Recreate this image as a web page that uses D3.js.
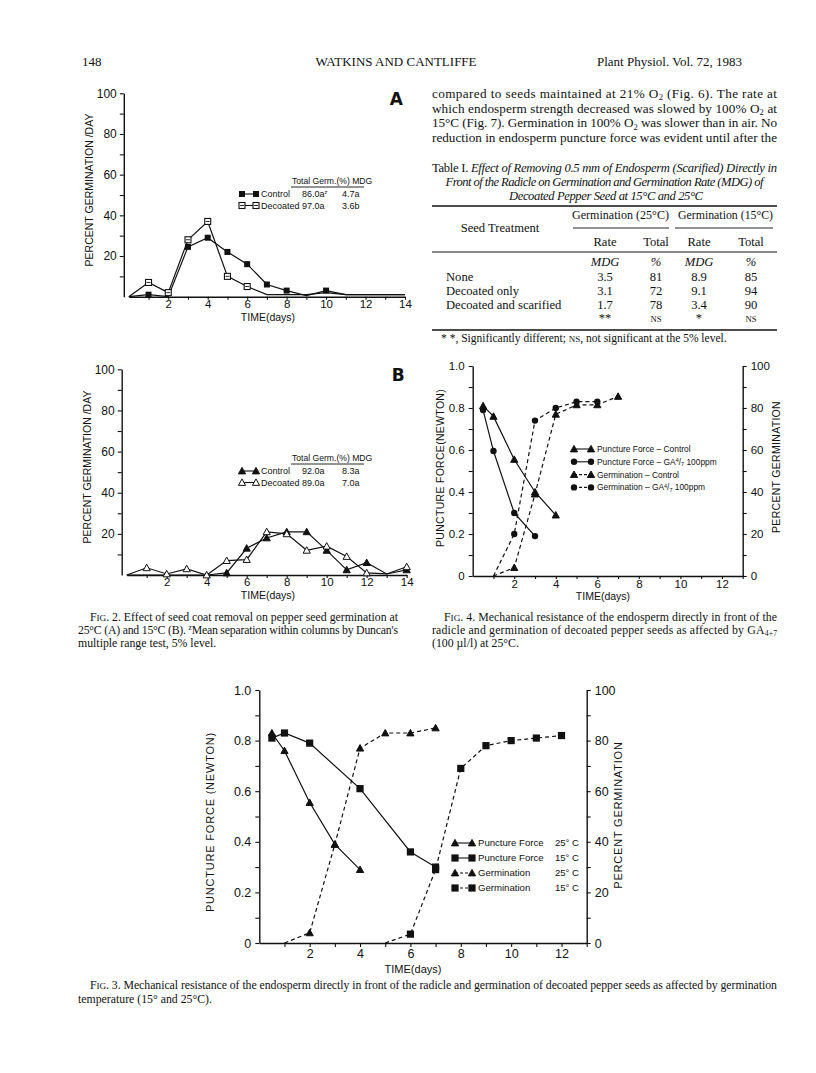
<!DOCTYPE html>
<html><head><meta charset="utf-8">
<script src="https://cdn.jsdelivr.net/npm/d3@7"></script>
<style>body{margin:0;background:#fff}svg{display:block}</style>
</head><body><svg id="page" width="816" height="1073"></svg>
<script>
// ---------- DATA ----------
const fig2Days = [0,1,2,3,4,5,6,7,8,9,10,11,12,13,14];
const fig2aControl  = [0,1,0,24.5,29,22,16,6,3,0.5,3,1,1,1,1];
const fig2aDecoated = [0,7,2,28,37,10,5,1,1,1,2,1,1,1,1];
const fig2aControlMarkDays = [1,3,4,5,6,7,8,10];
const fig2aDecoatedMarkDays = [1,2,3,4,5,6];
const fig2bControl  = [0,0,0,0,0,1,13,18,21,21,12,2.5,6,0.5,2.5];
const fig2bDecoated = [0,3.5,0.5,3,0,7,7.5,21,20,12,14,9,1,0.5,4];
const fig2bControlMarkDays = [5,6,7,8,9,10,11,12,14];
const fig2bDecoatedMarkDays = [1,2,3,4,5,6,7,8,9,10,11,12,14];
const fig2aLegend = [["Control","86.0a^{z}","4.7a"],["Decoated","97.0a","3.6b"]];
const fig2bLegend = [["Control","92.0a","8.3a"],["Decoated","89.0a","7.0a"]];
const fig2YTicks = [10,20,30,40,50,60,70,80,90,100];
const fig2XTicks = [1,2,3,4,5,6,7,8,9,10,11,12,13,14];

const fig4PfControlDays = [0.5,1,2,3,4];
const fig4PfControl = [0.81,0.76,0.555,0.40,0.29];
const fig4PfGaDays = [0.5,1,2,3];
const fig4PfGa = [0.79,0.595,0.30,0.19];
const fig4GermControlDays = [1,2,3,4,5,6,7];
const fig4GermControl = [0,4,39,77,81.5,81.5,85.5];
const fig4GermGaDays = [1,2,3,4,5,6];
const fig4GermGa = [0,20,74,80,83,83];

const fig3Pf25Days = [0.5,1,2,3,4];
const fig3Pf25 = [0.83,0.76,0.555,0.39,0.29];
const fig3Pf15Days = [0.5,1,2,4,6,7];
const fig3Pf15 = [0.81,0.83,0.79,0.61,0.36,0.30];
const fig3Germ25Days = [1,2,3,4,5,6,7];
const fig3Germ25 = [0,4,39,77,83,83,85];
const fig3Germ15Days = [5,6,7,8,9,10,11,12];
const fig3Germ15 = [0,3.5,29,69,78,80,81,82];

const forceTicks = [0,0.1,0.2,0.3,0.4,0.5,0.6,0.7,0.8,0.9,1.0];
const pctTicks = [0,10,20,30,40,50,60,70,80,90,100];
const dayTicks = [1,2,3,4,5,6,7,8,9,10,11,12,13];

const tableRows = ["None","Decoated only","Decoated and scarified"];
const rate25 = ["3.5","3.1","1.7"];
const total25 = ["81","72","78"];
const rate15 = ["8.9","9.1","3.4"];
const total15 = ["85","94","90"];
const sigRow = ["**","NS","*","NS"];

// ---------- SETUP ----------
const svg = d3.select("#page");
svg.append("rect").attr("width",816).attr("height",1073).attr("fill","#fff");
const SERIF = "'Liberation Serif','Times New Roman',serif";
const SANS = "'Liberation Sans',Arial,sans-serif";
const LM = 78;

function rich(parent, x, y, str, o = {}) {
  const size = o.size || 13;
  const t = parent.append("text").attr("x", x).attr("y", y)
    .attr("font-family", o.family || SERIF).attr("font-size", size)
    .attr("fill", "#111").attr("text-anchor", o.anchor || "start");
  if (o.weight) t.attr("font-weight", o.weight);
  if (o.style) t.attr("font-style", o.style);
  if (o.len) t.attr("textLength", o.len).attr("lengthAdjust", o.adj || "spacing");
  const parts = str.split(/(_\{[^}]*\}|\^\{[^}]*\}|~\{[^}]*\}|\/\{[^}]*\})/).filter(s => s.length);
  let cur = 0;
  parts.forEach(p => {
    let shift = 0, fs = size, txt = p, st = null;
    if (p.startsWith("_{")) { shift = size*0.18; fs = size*0.65; txt = p.slice(2,-1); }
    else if (p.startsWith("^{")) { shift = -size*0.32; fs = size*0.65; txt = p.slice(2,-1); }
    else if (p.startsWith("~{")) { fs = size*0.78; txt = p.slice(2,-1); }
    else if (p.startsWith("/{")) { st = "italic"; txt = p.slice(2,-1); }
    const ts = t.append("tspan").attr("font-size", fs).text(txt);
    if (st) ts.attr("font-style", st);
    if (shift !== cur) { ts.attr("dy", shift - cur); cur = shift; }
  });
  return t;
}

function marker(g, type, cx, cy) {
  if (type === "sqFill") {
    g.append("rect").attr("x", cx-3).attr("y", cy-3).attr("width", 6).attr("height", 6).attr("fill", "#111");
  } else if (type === "sqOpen") {
    g.append("rect").attr("x", cx-3).attr("y", cy-3).attr("width", 6).attr("height", 6)
      .attr("fill", "#fff").attr("stroke", "#111").attr("stroke-width", 1.1);
    g.append("line").attr("x1", cx-2).attr("x2", cx+2).attr("y1", cy).attr("y2", cy).attr("stroke", "#111").attr("stroke-width", 0.9);
  } else if (type === "sqBig") {
    g.append("rect").attr("x", cx-3.6).attr("y", cy-3.6).attr("width", 7.2).attr("height", 7.2).attr("fill", "#111");
  } else if (type === "triFill" || type === "triOpen") {
    const s = 3.6;
    g.append("path").attr("d", `M${cx},${cy-s}L${cx+s},${cy+s*0.8}L${cx-s},${cy+s*0.8}Z`)
      .attr("fill", type === "triFill" ? "#111" : "#fff").attr("stroke", "#111").attr("stroke-width", 1);
  } else if (type === "circle") {
    g.append("circle").attr("cx", cx).attr("cy", cy).attr("r", 3.2).attr("fill", "#111");
  }
}

function styleAxis(ax, size) {
  ax.selectAll("path.domain").attr("stroke", "#111").attr("stroke-width", 1.4);
  ax.selectAll(".tick line").attr("stroke", "#111").attr("stroke-width", 1.1);
  ax.selectAll(".tick text").attr("font-family", SANS).attr("font-size", size).attr("fill", "#111");
}

// ---------- HEADER ----------
rich(svg, 82, 66, "148", {size: 13});
rich(svg, 396, 66, "WATKINS AND CANTLIFFE", {size: 13, anchor: "middle"});
rich(svg, 742, 66, "Plant Physiol. Vol. 72, 1983", {size: 13, anchor: "end"});

// ---------- PARAGRAPH ----------
const paraLines = [
  "compared to seeds maintained at 21% O_{2} (Fig. 6). The rate at",
  "which endosperm strength decreased was slowed by 100% O_{2} at",
  "15°C (Fig. 7). Germination in 100% O_{2} was slower than in air. No",
  "reduction in endosperm puncture force was evident until after the"
];
paraLines.forEach((l, i) => rich(svg, 432, 98 + i*14.6, l, {size: 13.2, len: 345}));

// ---------- TABLE ----------
rich(svg, 432, 172, "Table I. /{Effect of Removing 0.5 mm of Endosperm (Scarified) Directly in}", {size: 12.6, len: 345});
rich(svg, 604.5, 186, "Front of the Radicle on Germination and Germination Rate (MDG) of", {size: 12.6, style: "italic", anchor: "middle", len: 318});
rich(svg, 606, 200, "Decoated Pepper Seed at 15°C and 25°C", {size: 12.6, style: "italic", anchor: "middle", len: 194});
const rule = (y, w) => svg.append("line").attr("x1", 432).attr("x2", 777).attr("y1", y).attr("y2", y).attr("stroke", "#111").attr("stroke-width", w);
rule(206, 1.4);
rich(svg, 572, 219, "Germination (25°C)", {size: 12.6, len: 97, adj: "spacingAndGlyphs"});
rich(svg, 678, 219, "Germination (15°C)", {size: 12.6, len: 95, adj: "spacingAndGlyphs"});
svg.append("line").attr("x1", 573).attr("x2", 669).attr("y1", 228).attr("y2", 228).attr("stroke", "#111").attr("stroke-width", 0.9);
svg.append("line").attr("x1", 675).attr("x2", 773).attr("y1", 228).attr("y2", 228).attr("stroke", "#111").attr("stroke-width", 0.9);
rich(svg, 500, 232, "Seed Treatment", {size: 12.6, anchor: "middle"});
const colX = [605, 656, 699, 751];
["Rate","Total","Rate","Total"].forEach((s, i) => rich(svg, colX[i], 246, s, {size: 12.6, anchor: "middle"}));
rule(252, 1.1);
["MDG","%","MDG","%"].forEach((s, i) => rich(svg, colX[i], 266, s, {size: 12.6, anchor: "middle", style: "italic"}));
tableRows.forEach((r, i) => {
  const y = 281 + i*14;
  rich(svg, 446, y, r, {size: 12.6});
  [rate25[i], total25[i], rate15[i], total15[i]].forEach((v, j) => rich(svg, colX[j], y, v, {size: 12.6, anchor: "middle"}));
});
sigRow.forEach((s, j) => rich(svg, colX[j], 322, s === "NS" ? "~{NS}" : s, {size: s === "NS" ? 11 : 12.6, anchor: "middle"}));
rule(330, 1.4);
rich(svg, 441, 342, "* *, Significantly different; ~{NS}, not significant at the 5% level.", {size: 11.5});

// ---------- FIG 2 ----------
function fig2(o) {
  const g = svg.append("g");
  const x = d3.scaleLinear().domain([0,14]).range(o.xr);
  const y = d3.scaleLinear().domain([0,100]).range(o.yr);
  const ya = g.append("g").attr("transform", `translate(${x(0)-5},0)`)
    .call(d3.axisLeft(y).tickValues(fig2YTicks).tickSize(4).tickSizeOuter(0).tickPadding(3)
      .tickFormat(d => d % 20 ? "" : d));
  styleAxis(ya, 12);
  const xa = g.append("g").attr("transform", `translate(0,${y(0)})`)
    .call(d3.axisBottom(x).tickValues(fig2XTicks).tickSize(3).tickSizeOuter(0).tickPadding(0)
      .tickFormat(d => d % 2 ? "" : d));
  styleAxis(xa, 11.5);
  g.append("text").attr("transform", `translate(${o.xr[0]-36},${o.tc}) rotate(-90)`)
    .attr("text-anchor", "middle").attr("font-family", SANS).attr("font-size", 10.5).attr("fill", "#111")
    .text("PERCENT GERMINATION /DAY");
  g.append("text").attr("x", 268).attr("y", o.yr[0]+24).attr("text-anchor", "middle")
    .attr("font-family", SANS).attr("font-size", 10.5).attr("fill", "#111").text("TIME(days)");
  g.append("text").attr("x", o.xr[1]-2).attr("y", o.yr[1]+12).attr("text-anchor", "end")
    .attr("font-family", "'DejaVu Sans',Arial,sans-serif").attr("font-weight", "bold").attr("font-size", 17).attr("fill", "#111").text(o.letter);
  const line = d3.line().x((d, i) => x(fig2Days[i])).y(d => y(d));
  [o.s1, o.s2].forEach(s => g.append("path").attr("d", line(s.v)).attr("fill", "none").attr("stroke", "#111").attr("stroke-width", 1.2));
  [o.s1, o.s2].forEach(s => s.marks.forEach(dd => marker(g, s.m, x(dd), y(s.v[fig2Days.indexOf(dd)]))));
  const L = o.leg;
  g.append("text").attr("x", 292).attr("y", L.y).attr("font-family", SANS).attr("font-size", 8.6).attr("fill", "#111").text("Total Germ.(%) MDG");
  g.append("line").attr("x1", 291).attr("x2", 364).attr("y1", L.y+3).attr("y2", L.y+3).attr("stroke", "#111").attr("stroke-width", 0.9);
  o.legRows.forEach((r, i) => {
    const ly = L.y + 13 + i*11.5;
    const s = i === 0 ? o.s1 : o.s2;
    g.append("line").attr("x1", 242).attr("x2", 256).attr("y1", ly-3).attr("y2", ly-3).attr("stroke", "#111").attr("stroke-width", 1.1);
    marker(g, s.m, 242, ly-3); marker(g, s.m, 256, ly-3);
    rich(g, 261, ly, r[0], {size: 9, family: SANS});
    rich(g, 302, ly, r[1], {size: 9, family: SANS});
    rich(g, 342, ly, r[2], {size: 9, family: SANS});
  });
}
fig2({xr: [128.8, 405], yr: [296.7, 93.3], letter: "A", tc: 190,
  s1: {v: fig2aControl, m: "sqFill", marks: fig2aControlMarkDays},
  s2: {v: fig2aDecoated, m: "sqOpen", marks: fig2aDecoatedMarkDays},
  leg: {y: 184}, legRows: fig2aLegend});
fig2({xr: [126.7, 406.7], yr: [575, 369.3], letter: "B", tc: 467,
  s1: {v: fig2bControl, m: "triFill", marks: fig2bControlMarkDays},
  s2: {v: fig2bDecoated, m: "triOpen", marks: fig2bDecoatedMarkDays},
  leg: {y: 461}, legRows: fig2bLegend});

rich(svg, 90, 621, "F~{IG}. 2. Effect of seed coat removal on pepper seed germination at", {size: 11.8, len: 308});
rich(svg, LM, 634, "25°C (A) and 15°C (B). ^{z}Mean separation within columns by Duncan's", {size: 11.8, len: 320});
rich(svg, LM, 647, "multiple range test, 5% level.", {size: 11.8});

// ---------- Dual-axis figures (4 and 3) ----------
function dual(o) {
  const g = svg.append("g");
  const x = d3.scaleLinear().domain([0,13]).range(o.xr);
  const yF = d3.scaleLinear().domain([0,1]).range(o.yr);
  const yP = d3.scaleLinear().domain([0,100]).range(o.yr);
  const la = g.append("g").attr("transform", `translate(${o.xr[0]},0)`)
    .call(d3.axisLeft(yF).tickValues(forceTicks).tickSize(4).tickSizeOuter(0).tickPadding(4)
      .tickFormat(d => { const k = Math.round(d*10); return k % 2 ? "" : (k === 0 ? "0" : d.toFixed(1)); }));
  styleAxis(la, o.fs);
  const ra = g.append("g").attr("transform", `translate(${o.xr[1]},0)`)
    .call(d3.axisRight(yP).tickValues(pctTicks).tickSize(4).tickSizeOuter(0).tickPadding(4)
      .tickFormat(d => d % 20 ? "" : d));
  styleAxis(ra, o.fs);
  const xa = g.append("g").attr("transform", `translate(0,${o.yr[0]})`)
    .call(d3.axisBottom(x).tickValues(dayTicks).tickSize(o.xts).tickSizeOuter(0).tickPadding(o.xtp)
      .tickFormat(d => d % 2 ? "" : d));
  styleAxis(xa, o.fs);
  g.append("text").attr("transform", `translate(${o.lt[0]},${o.lt[1]}) rotate(-90)`).attr("text-anchor", "middle")
    .attr("font-family", SANS).attr("font-size", o.ts).attr("fill", "#111").attr("letter-spacing", o.ls).text(o.leftTitle);
  g.append("text").attr("transform", `translate(${o.rt[0]},${o.rt[1]}) rotate(-90)`).attr("text-anchor", "middle")
    .attr("font-family", SANS).attr("font-size", o.ts).attr("fill", "#111").attr("letter-spacing", o.ls).text("PERCENT GERMINATION");
  g.append("text").attr("x", o.tt[0]).attr("y", o.tt[1]).attr("text-anchor", "middle")
    .attr("font-family", SANS).attr("font-size", o.ts).attr("fill", "#111").text("TIME(days)");
  o.series.forEach(s => {
    const ys = s.pct ? yP : yF;
    const line = d3.line().x((d, i) => x(s.days[i])).y(d => ys(d));
    g.append("path").attr("d", line(s.v)).attr("fill", "none").attr("stroke", "#111").attr("stroke-width", 1.2)
      .attr("stroke-dasharray", s.pct ? "4,3" : null);
    s.v.forEach((d, i) => { if (d > 0) marker(g, s.m, x(s.days[i]), ys(d)); });
  });
  o.series.forEach((s, i) => {
    const ly = o.leg.y + i*o.leg.dy;
    g.append("line").attr("x1", o.leg.x).attr("x2", o.leg.x+o.leg.w).attr("y1", ly-3).attr("y2", ly-3)
      .attr("stroke", "#111").attr("stroke-width", 1.1).attr("stroke-dasharray", s.pct ? "3,2" : null);
    marker(g, s.m, o.leg.x, ly-3); marker(g, s.m, o.leg.x+o.leg.w, ly-3);
    rich(g, o.leg.x+o.leg.w+6, ly, s.label, {size: o.leg.fs, family: SANS});
    if (s.temp) rich(g, o.leg.tx, ly, s.temp, {size: o.leg.fs, family: SANS, anchor: "end"});
  });
}

dual({xr: [472.7, 742.7], yr: [576, 366], fs: 11.5, ts: 10.5, ls: 0.3, xts: 3, xtp: 1,
  leftTitle: "PUNCTURE FORCE(NEWTON)", lt: [444, 468], rt: [780, 467], tt: [603, 600],
  series: [
    {days: fig4PfControlDays, v: fig4PfControl, m: "triFill", pct: false, label: "Puncture Force  – Control"},
    {days: fig4PfGaDays, v: fig4PfGa, m: "circle", pct: false, label: "Puncture Force – GA^{4}/_{7} 100ppm"},
    {days: fig4GermControlDays, v: fig4GermControl, m: "triFill", pct: true, label: "Germination  – Control"},
    {days: fig4GermGaDays, v: fig4GermGa, m: "circle", pct: true, label: "Germination  – GA^{4}/_{7} 100ppm"}
  ],
  leg: {x: 574, w: 17, y: 452, dy: 12.8, fs: 8.4}});

rich(svg, 444, 621, "F~{IG}. 4. Mechanical resistance of the endosperm directly in front of the", {size: 11.8, len: 333});
rich(svg, 432, 634, "radicle and germination of decoated pepper seeds as affected by GA_{4+7}", {size: 11.8, len: 345});
rich(svg, 432, 647, "(100 µl/l) at 25°C.", {size: 11.8});

dual({xr: [259.3, 586.7], yr: [943, 690], fs: 12.5, ts: 11, ls: 0.8, xts: 4, xtp: 2,
  leftTitle: "PUNCTURE FORCE (NEWTON)", lt: [214, 822], rt: [622, 815], tt: [413, 973],
  series: [
    {days: fig3Pf25Days, v: fig3Pf25, m: "triFill", pct: false, label: "Puncture Force", temp: "25° C"},
    {days: fig3Pf15Days, v: fig3Pf15, m: "sqBig", pct: false, label: "Puncture Force", temp: "15° C"},
    {days: fig3Germ25Days, v: fig3Germ25, m: "triFill", pct: true, label: "Germination", temp: "25° C"},
    {days: fig3Germ15Days, v: fig3Germ15, m: "sqBig", pct: true, label: "Germination", temp: "15° C"}
  ],
  leg: {x: 455, w: 17, y: 846, dy: 15, fs: 9.6, tx: 579}});

rich(svg, 90, 989, "F~{IG}. 3. Mechanical resistance of the endosperm directly in front of the radicle and germination of decoated pepper seeds as affected by germination", {size: 11.8, len: 687});
rich(svg, LM, 1003, "temperature (15° and 25°C).", {size: 11.8});
</script></body></html>
